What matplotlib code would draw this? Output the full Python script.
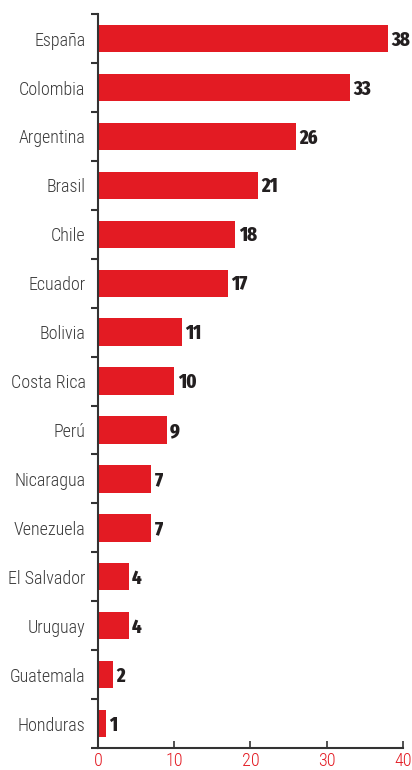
import matplotlib as mpl
mpl.use('Agg')
import matplotlib.pyplot as plt
import numpy as np

paises = ['España', 'Colombia', 'Argentina', 'Brasil', 'Chile', 'Ecuador',
          'Bolivia', 'Costa Rica', 'Perú', 'Nicaragua', 'Venezuela',
          'El Salvador', 'Uruguay', 'Guatemala', 'Honduras']
valores = [38, 33, 26, 21, 18, 17, 11, 10, 9, 7, 7, 4, 4, 2, 1]
xticks = [0, 10, 20, 30, 40]

rojo = '#e31b23'
gris = '#333333'
fuente = ['Roboto Condensed', 'DejaVu Sans']
fuente_num = ['Fira Sans Extra Condensed', 'Roboto Condensed', 'DejaVu Sans']

fig = plt.figure(figsize=(4.12, 7.7), dpi=100)
ax = fig.add_axes([0.238, 0.0286, 0.74, 0.953])

y = np.arange(len(paises))
ax.barh(y, valores, height=0.56, color=rojo)
for yi, v in zip(y, valores):
    ax.text(v + 0.45, yi + 0.03, str(v), va='center', ha='left', fontsize=14.5,
            fontweight='heavy', color='#231f20', family=fuente_num)

ax.set_ylim(len(paises) - 0.5, -0.5)
ax.set_xlim(0, 40)

# ticks entre categorias, etiquetas en el centro
ax.set_yticks(np.arange(-0.5, len(paises), 1))
ax.set_yticklabels([])
ax.set_yticks(y, minor=True)
ax.set_yticklabels(paises, minor=True)
for t in ax.get_yticklabels(minor=True):
    t.set_family(fuente)
    t.set_fontsize(13)
    t.set_fontweight('light')
    t.set_color('#3a3a3a')
ax.tick_params(axis='y', which='major', direction='out', length=5,
               width=1.5, color=gris)
ax.tick_params(axis='y', which='minor', length=0, pad=9)

ax.set_xticks(xticks)
ax.set_xticklabels([str(t) for t in xticks])
for t in ax.get_xticklabels():
    t.set_family(fuente)
    t.set_fontsize(13)
    t.set_fontweight('light')
    t.set_color(rojo)
ax.tick_params(axis='x', direction='in', length=5, width=1.2, color=gris, pad=3)

for s in ['top', 'right']:
    ax.spines[s].set_visible(False)
for s in ['left', 'bottom']:
    ax.spines[s].set_color(gris)
    ax.spines[s].set_linewidth(1.5)

fig.savefig('out.png', dpi=100)
